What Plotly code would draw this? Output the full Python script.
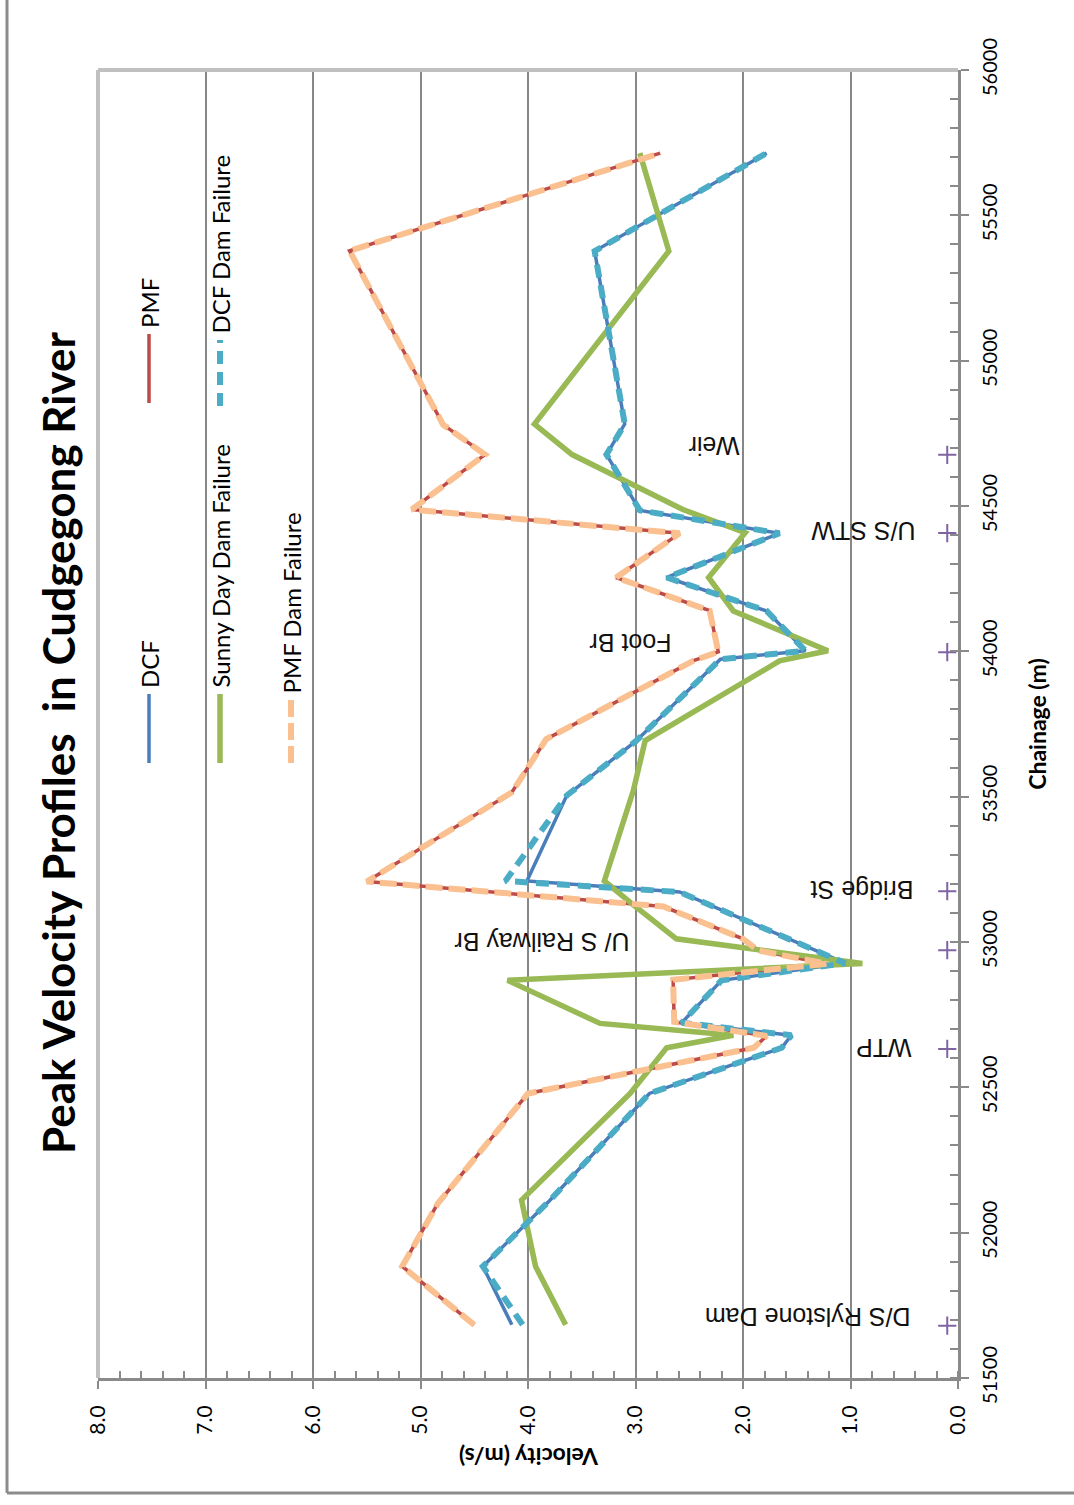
import plotly.graph_objects as go

# ---- Data: peak velocity (m/s) against chainage (m) for each scenario ----
dcf_chainage = [51683, 51884, 52110, 52479, 52636, 52679, 52722, 52868, 52927, 53172,
                53210, 53504, 53690, 53973, 54002, 54139, 54254, 54406, 54485, 54677,
                54782, 55377, 55714]
dcf_velocity = [4.15, 4.42, 3.80, 2.87, 1.64, 1.55, 2.57, 2.20, 1.05, 2.59,
                4.01, 3.64, 3.00, 2.21, 1.42, 1.78, 2.71, 1.66, 2.96, 3.27,
                3.10, 3.38, 1.78]

dcf_df_chainage = [51683, 51884, 52110, 52479, 52636, 52679, 52722, 52868, 52927, 53172,
                   53210, 53504, 53690, 53973, 54002, 54139, 54254, 54406, 54485, 54677,
                   54782, 55377, 55714]
dcf_df_velocity = [4.05, 4.42, 3.80, 2.87, 1.64, 1.55, 2.57, 2.20, 1.05, 2.59,
                   4.21, 3.64, 3.00, 2.21, 1.42, 1.78, 2.71, 1.66, 2.96, 3.27,
                   3.10, 3.38, 1.78]

pmf_chainage = [51683, 51884, 52100, 52479, 52636, 52677, 52725, 52870, 52925, 52971,
                53011, 53122, 53208, 53515, 53698, 53968, 53998, 54140, 54254, 54406,
                54488, 54677, 54780, 55378, 55714]
pmf_velocity = [4.50, 5.17, 4.84, 4.00, 1.90, 1.78, 2.64, 2.65, 1.22, 1.86,
                2.00, 2.74, 5.50, 4.15, 3.83, 2.46, 2.23, 2.31, 3.18, 2.59,
                5.08, 4.40, 4.79, 5.66, 2.77]

pmf_df_chainage = list(pmf_chainage)
pmf_df_velocity = [4.50, 5.17, 4.84, 4.00, 1.90, 1.78, 2.64, 2.65, 1.22, 1.86,
                   2.00, 2.74, 5.50, 4.15, 3.83, 2.46, 2.23, 2.31, 3.18, 2.59,
                   5.08, 4.40, 4.79, 5.66, 2.77]

sunny_chainage = [51683, 51884, 52112, 52479, 52636, 52679, 52720, 52868, 52926, 52971,
                  53011, 53128, 53210, 53521, 53693, 53967, 54002, 54139, 54254, 54408,
                  54488, 54677, 54782, 55377, 55714]
sunny_velocity = [3.65, 3.93, 4.06, 3.05, 2.71, 2.09, 3.33, 4.19, 0.89, 1.86,
                  2.62, 3.02, 3.29, 3.02, 2.91, 1.66, 1.21, 2.09, 2.32, 1.98,
                  2.56, 3.59, 3.94, 2.69, 2.96]

# Key locations along the river
site_names = ["D/S Rylstone Dam", "WTP", "U/ S Railway Br", "Bridge St",
              "Foot Br", "U/S STW", "Weir"]
site_chainage = [51680, 52632, 52972, 53175, 53997, 54407, 54676]
site_velocity = [0.1, 0.1, 0.1, 0.1, 0.1, 0.1, 0.1]

velocity_ticks = [0, 1, 2, 3, 4, 5, 6, 7, 8]
chainage_ticks = [51500, 52000, 52500, 53000, 53500, 54000, 54500, 55000, 55500, 56000]

# ---- Page geometry (pixels) ----
W, H = 1074, 1505
L, R, T, B = 98, 958, 70, 1378


def px(x):
    return (x - L) / (R - L)


def py(y):
    return (B - y) / (B - T)


C_DCF = "#4A7EBB"
C_PMF = "#BE4B48"
C_SUNNY = "#98B954"
C_DCF_DF = "#4BACC6"
C_PMF_DF = "#FAC090"
C_SITE = "#8064A2"
GRID = "#878787"
AXIS = "#8A8A8A"

DASH_DCF_DF = "13px,8px"
DASH_PMF_DF = "17px,6px"

fig = go.Figure()

fig.add_trace(go.Scatter(x=dcf_velocity, y=dcf_chainage, mode="lines", name="DCF",
                         line=dict(color=C_DCF, width=3.5)))
fig.add_trace(go.Scatter(x=pmf_velocity, y=pmf_chainage, mode="lines", name="PMF",
                         line=dict(color=C_PMF, width=3.5)))
fig.add_trace(go.Scatter(x=sunny_velocity, y=sunny_chainage, mode="lines",
                         name="Sunny Day Dam Failure",
                         line=dict(color=C_SUNNY, width=5.5)))
fig.add_trace(go.Scatter(x=dcf_df_velocity, y=dcf_df_chainage, mode="lines",
                         name="DCF Dam Failure",
                         line=dict(color=C_DCF_DF, width=6, dash=DASH_DCF_DF)))
fig.add_trace(go.Scatter(x=pmf_df_velocity, y=pmf_df_chainage, mode="lines",
                         name="PMF Dam Failure",
                         line=dict(color=C_PMF_DF, width=6, dash=DASH_PMF_DF)))
fig.add_trace(go.Scatter(x=site_velocity, y=site_chainage, mode="markers",
                         name="Sites",
                         marker=dict(symbol="cross-thin", size=13, color=C_SITE,
                                     line=dict(width=2, color=C_SITE))))

annotations = []
shapes = []

# Site labels (drawn upside down), offset in pixels from each site marker
label_offsets = [(-140, 8), (-64, 1), (-405, 8), (-85, 1), (-317, 9), (-84, 2), (-233, 9)]
for name, ch, v, (dx, dy) in zip(site_names, site_chainage, site_velocity, label_offsets):
    annotations.append(dict(x=v, y=ch, xref="x", yref="y", text=name, showarrow=False,
                            textangle=180, xanchor="center", yanchor="middle",
                            xshift=dx, yshift=dy,
                            font=dict(family="Liberation Sans", size=25, color="#111111")))

# Title
annotations.append(dict(x=px(58), y=py(743), xref="paper", yref="paper",
                        text="<b>Peak Velocity Profiles \u00a0in Cudgegong River</b>",
                        showarrow=False, textangle=-90, xanchor="center", yanchor="middle",
                        font=dict(family="Lato", size=44, color="#000000")))

# Velocity axis title
annotations.append(dict(x=px(529), y=py(1457), xref="paper", yref="paper",
                        text="<b>Velocity (m/s)</b>", showarrow=False, textangle=180,
                        xanchor="center", yanchor="middle",
                        font=dict(family="Lato", size=23, color="#000000")))

# Legend: rotated labels with line samples
legend_items = [
    ("DCF", C_DCF, 3.5, None, 149, 694, 763),
    ("PMF", C_PMF, 3.5, None, 149, 334, 403),
    ("Sunny Day Dam Failure", C_SUNNY, 5.5, None, 220, 694, 763),
    ("DCF Dam Failure", C_DCF_DF, 6, DASH_DCF_DF, 220, 340, 406),
    ("PMF Dam Failure", C_PMF_DF, 6, DASH_PMF_DF, 291, 700, 763),
]
for label, color, width, dash, xc, y0, y1 in legend_items:
    line = dict(color=color, width=width)
    if dash:
        line["dash"] = dash
    shapes.append(dict(type="line", xref="paper", yref="paper",
                       x0=px(xc), x1=px(xc), y0=py(y1), y1=py(y0), line=line, layer="above"))
    annotations.append(dict(x=px(xc), y=py(y0 - 4), xref="paper", yref="paper",
                            text=label, showarrow=False, textangle=-90,
                            xanchor="center", yanchor="bottom",
                            font=dict(family="Lato", size=24, color="#000000")))

# Plot-area border (top and left) and outer chart frame
shapes.append(dict(type="line", xref="paper", yref="paper", x0=0, x1=1, y0=1, y1=1,
                   line=dict(color="#C0C0C0", width=4), layer="above"))
shapes.append(dict(type="line", xref="paper", yref="paper", x0=0, x1=0, y0=0, y1=1,
                   line=dict(color="#C0C0C0", width=4), layer="above"))
shapes.append(dict(type="line", xref="paper", yref="paper", x0=px(7), x1=px(7),
                   y0=py(1493), y1=py(0), line=dict(color="#8C8C8C", width=3)))
shapes.append(dict(type="line", xref="paper", yref="paper", x0=px(7), x1=px(W),
                   y0=py(1493), y1=py(1493), line=dict(color="#8C8C8C", width=3)))

fig.update_layout(
    width=W, height=H,
    margin=dict(l=L, r=W - R, t=T, b=H - B),
    paper_bgcolor="white", plot_bgcolor="white",
    showlegend=False,
    annotations=annotations,
    shapes=shapes,
    xaxis=dict(
        range=[8, 0], autorange=False,
        tickvals=velocity_ticks, tickformat=".1f", tickangle=-90,
        tickfont=dict(family="Lato", size=21, color="#000000"),
        ticks="outside", ticklen=8, tickwidth=2, tickcolor=AXIS,
        ticklabelstandoff=8,
        minor=dict(dtick=0.2, ticks="inside", ticklen=7, tickwidth=2, tickcolor=AXIS,
                   showgrid=False),
        showgrid=True, gridcolor=GRID, gridwidth=2,
        showline=True, linecolor=AXIS, linewidth=3,
        zeroline=False,
    ),
    yaxis=dict(
        range=[51500, 56000], autorange=False, side="right",
        tickvals=chainage_ticks, tickformat="d", tickangle=-90,
        tickfont=dict(family="Lato", size=20, color="#000000"),
        ticks="outside", ticklen=8, tickwidth=2, tickcolor=AXIS,
        ticklabelstandoff=4,
        minor=dict(dtick=100, ticks="inside", ticklen=8, tickwidth=2, tickcolor=AXIS,
                   showgrid=False),
        showgrid=False, zeroline=False,
        showline=True, linecolor=AXIS, linewidth=3,
        title=dict(text="<b>Chainage (m)</b>", standoff=30,
                   font=dict(family="Lato", size=23, color="#000000")),
    ),
)

fig.write_html("out.html")
